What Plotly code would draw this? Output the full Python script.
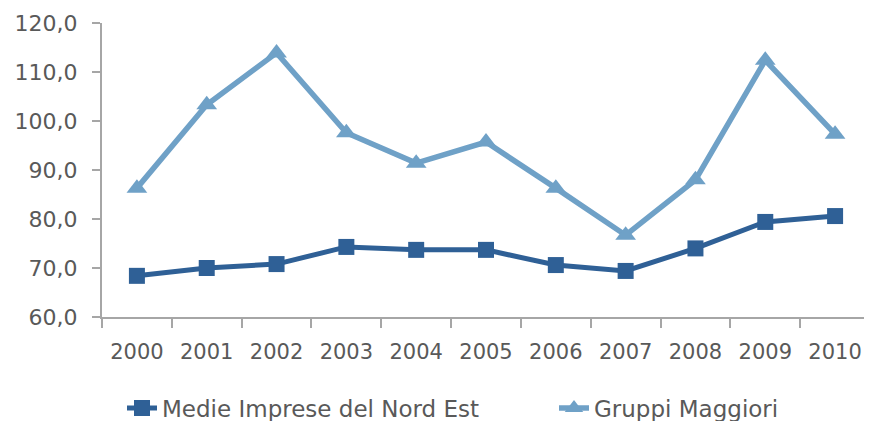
import plotly.graph_objects as go

years = ["2000", "2001", "2002", "2003", "2004", "2005", "2006", "2007", "2008", "2009", "2010"]
medie = [68.4, 70.0, 70.8, 74.3, 73.7, 73.7, 70.6, 69.4, 74.0, 79.4, 80.6]
gruppi = [86.3, 103.3, 113.9, 97.6, 91.4, 95.7, 86.3, 76.7, 88.0, 112.4, 97.3]
y_ticks = [60, 70, 80, 90, 100, 110, 120]

dark = "#2F6096"
light = "#6FA1C7"
gray = "#595959"
axis_gray = "#A6A6A6"
font_family = "DejaVu Sans"

# page body has an 8px margin, so the figure is sized to fill the rest of the window
W, H = 864, 413

fig = go.Figure()
fig.add_trace(go.Scatter(
    x=years, y=medie, name="Medie Imprese del Nord Est",
    mode="lines+markers",
    line=dict(color=dark, width=5),
    marker=dict(symbol="square", size=16, color=dark),
    legend="legend",
))
fig.add_trace(go.Scatter(
    x=years, y=gruppi, name="Gruppi Maggiori",
    mode="lines+markers",
    line=dict(color=light, width=5.5),
    marker=dict(symbol="triangle-up", size=18, color=light),
    legend="legend2",
))

legend_common = dict(
    orientation="h",
    xref="container", yref="container",
    xanchor="left",
    y=1 - 400 / H, yanchor="middle",
    font=dict(family=font_family, size=23, color=gray),
    itemclick=False, itemdoubleclick=False,
    bgcolor="rgba(0,0,0,0)",
)

fig.update_layout(
    width=W, height=H,
    margin=dict(l=94, r=2, t=15, b=104, autoexpand=False),
    paper_bgcolor="white", plot_bgcolor="white",
    separators=",.",
    font=dict(family=font_family, size=21, color=gray),
    showlegend=True,
    legend=dict(legend_common, x=114 / W),
    legend2=dict(legend_common, x=546 / W),
    xaxis=dict(
        type="category",
        range=[-0.5, len(years) - 0.5],
        automargin=False,
        showgrid=False, zeroline=False,
        showline=True, linecolor=axis_gray, linewidth=2,
        ticks="outside", ticklen=9, tickcolor=axis_gray, tickwidth=2,
        tickson="boundaries",
        tickfont=dict(family=font_family, size=21, color=gray),
        ticklabelstandoff=15,
    ),
    yaxis=dict(
        range=[60, 120],
        automargin=False,
        tickvals=y_ticks,
        tickformat=".1f",
        showgrid=False, zeroline=False,
        showline=True, linecolor=axis_gray, linewidth=2,
        ticks="outside", ticklen=8, tickcolor=axis_gray, tickwidth=2,
        tickfont=dict(family=font_family, size=22, color=gray),
        ticklabelstandoff=10,
    ),
)

fig.write_html("out.html")
